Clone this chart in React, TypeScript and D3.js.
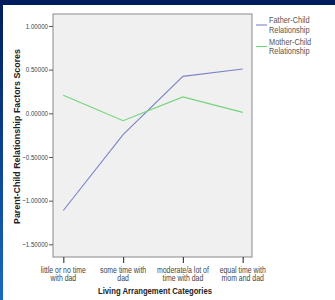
import React, { useEffect, useRef } from 'react';
import * as d3 from 'd3';

const categories = [
  ['little or no time', 'with dad'],
  ['some time with', 'dad'],
  ['moderate/a lot of', 'time with dad'],
  ['equal time with', 'mom and dad'],
];
const fatherChild = [-1.113, -0.244, 0.423, 0.508];
const motherChild = [0.206, -0.084, 0.188, 0.011];
const seriesNames = [['Father-Child', 'Relationship'], ['Mother-Child', 'Relationship']];
const yTicks = [1, 0.5, 0, -0.5, -1, -1.5];

function App() {
  const ref = useRef<SVGSVGElement>(null);

  useEffect(() => {
    const svg = d3.select(ref.current);
    svg.selectAll('*').remove();
    const font = '"Liberation Sans", Arial, sans-serif';
    const narrow = 0.82; // squeeze to look like a condensed face
    const left = 53, right = 252, top = 14, bottom = 257;

    // slide background
    const defs = svg.append('defs');
    const grad = defs.append('linearGradient').attr('id', 'edge').attr('x1', 0).attr('y1', 0).attr('x2', 0).attr('y2', 1);
    grad.append('stop').attr('offset', '0%').attr('stop-color', '#001c5c');
    grad.append('stop').attr('offset', '100%').attr('stop-color', '#1769c4');
    svg.append('rect').attr('width', 335).attr('height', 300).attr('fill', '#ffffff');
    svg.append('rect').attr('width', 335).attr('height', 5).attr('fill', '#001c5c');
    svg.append('rect').attr('width', 3).attr('height', 300).attr('fill', 'url(#edge)');

    const x = d3.scalePoint<number>().domain(d3.range(categories.length)).range([63.3, 242.7]);
    const y = d3.scaleLinear().domain([-1.645, 1.137]).range([bottom, top]);

    svg.append('rect')
      .attr('x', left).attr('y', top).attr('width', right - left).attr('height', bottom - top)
      .attr('fill', '#f0f0f0').attr('stroke', '#8a8a8a').attr('stroke-width', 1);

    // y axis
    const yAxis = svg.append('g').attr('transform', `translate(${left},0)`)
      .call(d3.axisLeft(y).tickValues(yTicks).tickFormat(() => '').tickSize(4));
    yAxis.select('.domain').remove();
    yAxis.selectAll('line').attr('stroke', '#555');
    yTicks.forEach(v => {
      svg.append('text').attr('transform', `translate(${left - 5},${y(v) + 2.7}) scale(${narrow},1)`)
        .attr('text-anchor', 'end').attr('font-family', font).attr('font-size', 7.5).attr('fill', '#444')
        .text(d3.format('.5f')(v));
    });

    // x axis
    const xAxis = svg.append('g').attr('transform', `translate(0,${bottom})`)
      .call(d3.axisBottom(x).tickSize(6).tickFormat(() => ''));
    xAxis.select('.domain').remove();
    xAxis.selectAll('line').attr('stroke', '#444').attr('stroke-width', 1.2);
    categories.forEach((c, i) => {
      const t = svg.append('text').attr('transform', `translate(${x(i)},272.5) scale(0.77,1)`)
        .attr('text-anchor', 'middle').attr('font-family', font).attr('font-size', 9).attr('fill', '#444');
      c.forEach((line, j) => t.append('tspan').attr('x', 0).attr('dy', j === 0 ? 0 : 9).text(line));
    });

    const line = d3.line<number>().x((_, i) => x(i)!).y(d => y(d));
    svg.append('path').datum(fatherChild).attr('d', line).attr('fill', 'none').attr('stroke', '#7a84c8').attr('stroke-width', 1.1);
    svg.append('path').datum(motherChild).attr('d', line).attr('fill', 'none').attr('stroke', '#72d47b').attr('stroke-width', 1.1);

    // legend
    const colors = ['#7a84c8', '#72d47b'];
    seriesNames.forEach((name, i) => {
      const ly = 25 + i * 21.5;
      svg.append('line').attr('x1', 256).attr('x2', 267).attr('y1', ly).attr('y2', ly)
        .attr('stroke', colors[i]).attr('stroke-width', 1.1);
      const t = svg.append('text').attr('transform', `translate(269,${ly - 2}) scale(${narrow},1)`)
        .attr('font-family', font).attr('font-size', 9).attr('fill', '#555');
      name.forEach((n, j) => t.append('tspan').attr('x', 0).attr('dy', j === 0 ? 0 : 10).text(n));
    });

    // axis titles
    svg.append('text').attr('x', 155).attr('y', 294).attr('text-anchor', 'middle')
      .attr('font-family', font).attr('font-weight', 'bold')
      .attr('font-size', 8.5).attr('textLength', 114).attr('lengthAdjust', 'spacingAndGlyphs')
      .attr('fill', '#222').text('Living Arrangement Categories');
    svg.append('text').attr('transform', 'translate(20,136.5) rotate(-90)').attr('text-anchor', 'middle')
      .attr('font-family', font).attr('font-weight', 'bold')
      .attr('font-size', 8.5).attr('textLength', 175).attr('lengthAdjust', 'spacingAndGlyphs')
      .attr('fill', '#222').text('Parent-Child Relationship Factors Scores');
  }, []);

  return (
    <div style={{ position: 'fixed', left: 0, top: 0 }}>
      <svg ref={ref} width={335} height={300} style={{ display: 'block' }} />
    </div>
  );
}

export default App;
